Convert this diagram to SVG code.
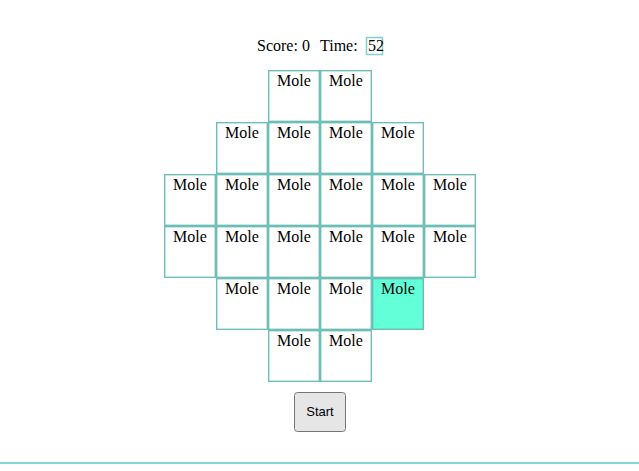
<svg xmlns="http://www.w3.org/2000/svg" width="639" height="471" viewBox="0 0 639 471">
<style>
.cell rect{fill:#fff;stroke:#66bbb4;stroke-width:1.3}
.cell.hit rect{fill:#63ffd8}
.cell text{font-family:"Liberation Serif",serif;font-size:16px;text-anchor:middle;fill:#000}
.hud{font-family:"Liberation Serif",serif;font-size:16px;fill:#000}
.btn{font-family:"Liberation Sans",Arial,sans-serif;font-size:13px;text-anchor:middle;fill:#000}
</style>
<rect width="639" height="471" fill="#fff"/>
<g id="hud">
<text class="hud" x="257" y="51">Score: 0</text>
<text class="hud" x="320" y="51">Time:</text>
<rect x="366.5" y="37.5" width="16" height="17" fill="#fff" stroke="#7fd2cc" stroke-width="1.5"/>
<text class="hud" x="368" y="51">52</text>
</g>
<g id="cell-0-2" class="cell"><rect x="268.7" y="70.7" width="50.6" height="50.6"/><text x="294" y="86">Mole</text></g>
<g id="cell-0-3" class="cell"><rect x="320.7" y="70.7" width="50.6" height="50.6"/><text x="346" y="86">Mole</text></g>
<g id="cell-1-1" class="cell"><rect x="216.7" y="122.7" width="50.6" height="50.6"/><text x="242" y="138">Mole</text></g>
<g id="cell-1-2" class="cell"><rect x="268.7" y="122.7" width="50.6" height="50.6"/><text x="294" y="138">Mole</text></g>
<g id="cell-1-3" class="cell"><rect x="320.7" y="122.7" width="50.6" height="50.6"/><text x="346" y="138">Mole</text></g>
<g id="cell-1-4" class="cell"><rect x="372.7" y="122.7" width="50.6" height="50.6"/><text x="398" y="138">Mole</text></g>
<g id="cell-2-0" class="cell"><rect x="164.7" y="174.7" width="50.6" height="50.6"/><text x="190" y="190">Mole</text></g>
<g id="cell-2-1" class="cell"><rect x="216.7" y="174.7" width="50.6" height="50.6"/><text x="242" y="190">Mole</text></g>
<g id="cell-2-2" class="cell"><rect x="268.7" y="174.7" width="50.6" height="50.6"/><text x="294" y="190">Mole</text></g>
<g id="cell-2-3" class="cell"><rect x="320.7" y="174.7" width="50.6" height="50.6"/><text x="346" y="190">Mole</text></g>
<g id="cell-2-4" class="cell"><rect x="372.7" y="174.7" width="50.6" height="50.6"/><text x="398" y="190">Mole</text></g>
<g id="cell-2-5" class="cell"><rect x="424.7" y="174.7" width="50.6" height="50.6"/><text x="450" y="190">Mole</text></g>
<g id="cell-3-0" class="cell"><rect x="164.7" y="226.7" width="50.6" height="50.6"/><text x="190" y="242">Mole</text></g>
<g id="cell-3-1" class="cell"><rect x="216.7" y="226.7" width="50.6" height="50.6"/><text x="242" y="242">Mole</text></g>
<g id="cell-3-2" class="cell"><rect x="268.7" y="226.7" width="50.6" height="50.6"/><text x="294" y="242">Mole</text></g>
<g id="cell-3-3" class="cell"><rect x="320.7" y="226.7" width="50.6" height="50.6"/><text x="346" y="242">Mole</text></g>
<g id="cell-3-4" class="cell"><rect x="372.7" y="226.7" width="50.6" height="50.6"/><text x="398" y="242">Mole</text></g>
<g id="cell-3-5" class="cell"><rect x="424.7" y="226.7" width="50.6" height="50.6"/><text x="450" y="242">Mole</text></g>
<g id="cell-4-1" class="cell"><rect x="216.7" y="278.7" width="50.6" height="50.6"/><text x="242" y="294">Mole</text></g>
<g id="cell-4-2" class="cell"><rect x="268.7" y="278.7" width="50.6" height="50.6"/><text x="294" y="294">Mole</text></g>
<g id="cell-4-3" class="cell"><rect x="320.7" y="278.7" width="50.6" height="50.6"/><text x="346" y="294">Mole</text></g>
<g id="cell-4-4" class="cell hit"><rect x="372.7" y="278.7" width="50.6" height="50.6"/><text x="398" y="294">Mole</text></g>
<g id="cell-5-2" class="cell"><rect x="268.7" y="330.7" width="50.6" height="50.6"/><text x="294" y="346">Mole</text></g>
<g id="cell-5-3" class="cell"><rect x="320.7" y="330.7" width="50.6" height="50.6"/><text x="346" y="346">Mole</text></g>
<g id="start">
<rect x="294.5" y="392.5" width="51" height="39" rx="3" fill="#e6e6e6" stroke="#767676" stroke-width="1"/>
<text class="btn" x="320" y="416">Start</text>
</g>
<g id="connectors"/>
<line x1="0" y1="463" x2="639" y2="463" stroke="#80d8d0" stroke-width="2"/>
</svg>
